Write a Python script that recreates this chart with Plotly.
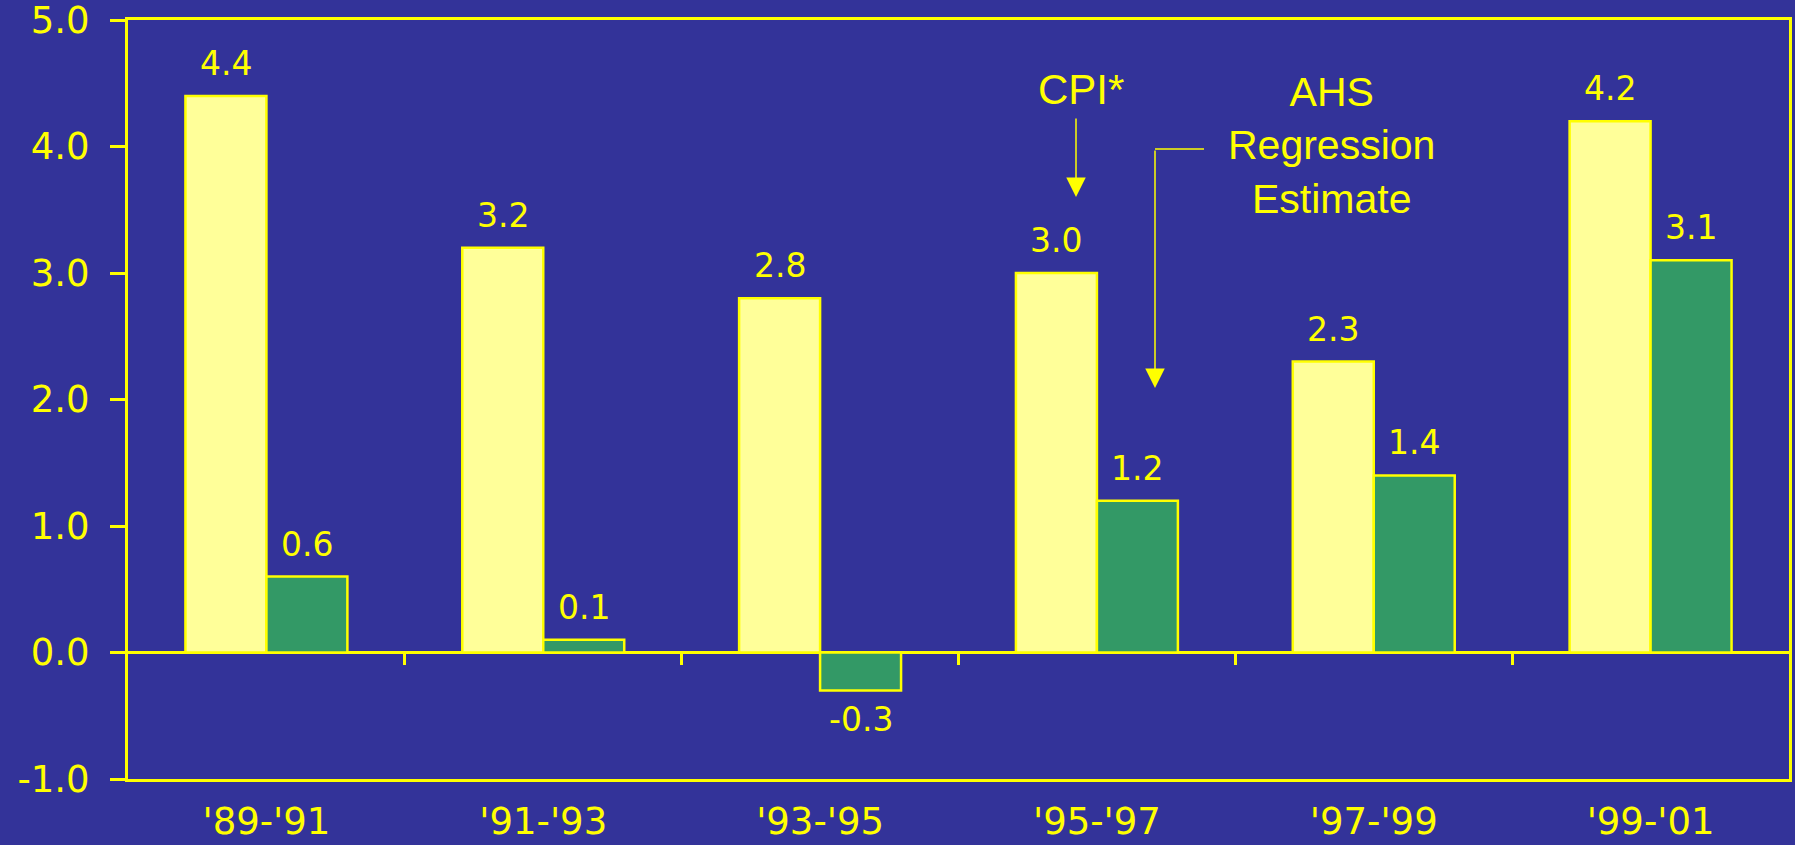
import plotly.graph_objects as go

categories = ["'89-'91", "'91-'93", "'93-'95", "'95-'97", "'97-'99", "'99-'01"]
cpi_values = [4.4, 3.2, 2.8, 3.0, 2.3, 4.2]
ahs_values = [0.6, 0.1, -0.3, 1.2, 1.4, 3.1]
y_ticks = [-1.0, 0.0, 1.0, 2.0, 3.0, 4.0, 5.0]
boundary_ticks = [0.5, 1.5, 2.5, 3.5, 4.5]

BG = "#333399"
YEL = "#FFFF00"
CPI_FILL = "#FFFF99"
AHS_FILL = "#339966"
W, H = 1795, 845
ML, MR, MT, MB = 128, 6, 20, 66
BARGAP = 0.415
LABEL_FONT = "DejaVu Sans"
ANN_FONT = "Liberation Sans, Arial"

plot_w = W - ML - MR
plot_h = H - MT - MB
bar_w = plot_w / len(categories) * (1 - BARGAP) / 2

fig = go.Figure()
fig.add_trace(go.Bar(x=categories, y=cpi_values, name="CPI*",
                     marker=dict(color=CPI_FILL, line=dict(color=YEL, width=2.5))))
fig.add_trace(go.Bar(x=categories, y=ahs_values, name="AHS Regression Estimate",
                     marker=dict(color=AHS_FILL, line=dict(color=YEL, width=2.5))))
# helper trace so the overlay axis (zero-line boundary ticks) is created
fig.add_trace(go.Scatter(x=[], y=[], xaxis="x2", yaxis="y", showlegend=False, hoverinfo="skip"))

annotations = []
for vals, sign in ((cpi_values, -1), (ahs_values, 1)):
    for c, v in zip(categories, vals):
        annotations.append(dict(
            x=c, y=v, xref="x", yref="y", text=f"{v:.1f}", showarrow=False,
            xanchor="center",
            xshift=sign * bar_w / 2, yshift=11 if v >= 0 else -8,
            yanchor="bottom" if v >= 0 else "top",
            font=dict(family=LABEL_FONT, size=33, color=YEL)))

def px_x(p):
    return (p - ML) / plot_w

def px_y(p):
    return (MT + plot_h - p) / plot_h

# CPI* label and arrow
annotations.append(dict(x=px_x(1081), y=px_y(90), xref="paper", yref="paper", text="CPI*",
                        xanchor="center", yanchor="middle",
                        showarrow=False, font=dict(family=ANN_FONT, size=42, color=YEL)))
annotations.append(dict(x=px_x(1076), y=px_y(197), xref="paper", yref="paper", text="",
                        showarrow=True, ax=0, ay=-80, arrowhead=2, arrowsize=2.6,
                        arrowwidth=1.5, arrowcolor=YEL, standoff=0))
# AHS label and arrow
annotations.append(dict(x=px_x(1331), y=px_y(145), xref="paper", yref="paper",
                        text="AHS<br>Regression<br>Estimate", showarrow=False,
                        xanchor="center", yanchor="middle",
                        font=dict(family=ANN_FONT, size=41, color=YEL)))
annotations.append(dict(x=px_x(1155), y=px_y(388), xref="paper", yref="paper", text="",
                        showarrow=True, ax=0, ay=-239, arrowhead=2, arrowsize=2.6,
                        arrowwidth=1.5, arrowcolor=YEL, standoff=0))

shapes = [dict(type="line", xref="paper", yref="paper",
               x0=px_x(1155), x1=px_x(1204), y0=px_y(149), y1=px_y(149),
               line=dict(color=YEL, width=1.5))]

fig.update_layout(
    width=W, height=H,
    paper_bgcolor=BG, plot_bgcolor=BG,
    margin=dict(l=ML, r=MR, t=MT, b=MB, pad=0, autoexpand=False),
    barmode="group", bargap=BARGAP, bargroupgap=0,
    showlegend=False,
    annotations=annotations, shapes=shapes,
    xaxis=dict(type="category", range=[-0.5, 5.5], showline=True, mirror=True,
               linecolor=YEL, linewidth=3, ticks="", showgrid=False, automargin=False,
               tickfont=dict(family=LABEL_FONT, size=37, color=YEL),
               ticklabelstandoff=8, ticklabeloverflow="allow"),
    xaxis2=dict(overlaying="x", anchor="free", position=1/6, side="bottom",
                range=[-0.5, 5.5], tickmode="array", tickvals=boundary_ticks,
                ticks="outside", ticklen=11, tickwidth=3, tickcolor=YEL, automargin=False,
                showticklabels=False, showline=False, showgrid=False, zeroline=False),
    yaxis=dict(range=[-1, 5], tickmode="array", tickvals=y_ticks,
               ticktext=[f"{v:.1f}" for v in y_ticks], automargin=False,
               showline=True, mirror=True, linecolor=YEL, linewidth=3,
               ticks="outside", ticklen=15, tickwidth=3, tickcolor=YEL,
               showgrid=False, zeroline=True, zerolinecolor=YEL, zerolinewidth=3,
               tickfont=dict(family=LABEL_FONT, size=37, color=YEL),
               ticklabelstandoff=13, ticklabeloverflow="allow"),
)

fig.write_html("out.html", config={"displayModeBar": False},
               post_script="document.body.style.margin='0';document.body.style.overflow='hidden';")
